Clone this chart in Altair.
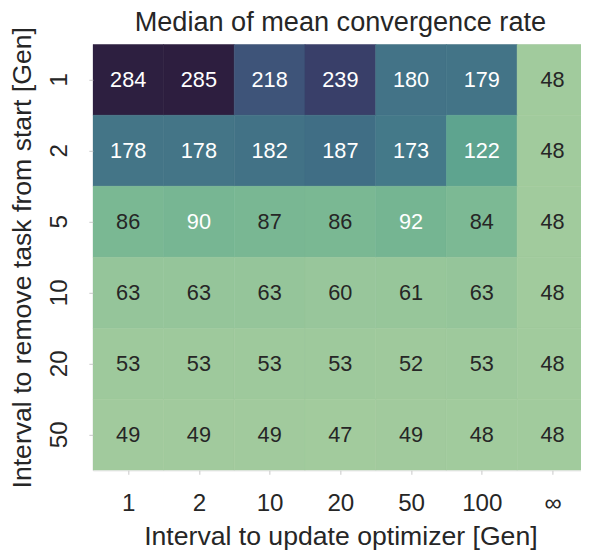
import json
import altair as alt
import pandas as pd

cols = ["1", "2", "10", "20", "50", "100", "∞"]
rows = ["1", "2", "5", "10", "20", "50"]
values = [
    [284, 285, 218, 239, 180, 179, 48],
    [178, 178, 182, 187, 173, 122, 48],
    [86, 90, 87, 86, 92, 84, 48],
    [63, 63, 63, 60, 61, 63, 48],
    [53, 53, 53, 53, 52, 53, 48],
    [49, 49, 49, 47, 49, 48, 48],
]

color_stops = [47, 53, 63, 86, 122, 178, 218, 239, 285]
color_range = ["#a2cb9d", "#9ec99c", "#95c59a", "#7ab893", "#5ea48f",
               "#447587", "#3e5479", "#393f69", "#2d1e3f"]

records = []
for r, row in zip(rows, values):
    for i, (c, v) in enumerate(zip(cols, row)):
        records.append({"row": r, "col": c, "ci": i, "ci2": i + 1, "cm": i + 0.5, "v": v})
df = pd.DataFrame(records)

FONT = "Liberation Sans"
TXT = "#262626"

# the last column runs slightly past the right edge of the picture, as in the reference
VIEW_W = 495
FULL_W = 502
xdomain = [0, len(cols) * VIEW_W / FULL_W]

label_expr = json.dumps(cols, ensure_ascii=False) + "[floor(datum.value)]"

xaxis = alt.Axis(title="Interval to update optimizer [Gen]", labelAngle=0,
                 values=[i + 0.5 for i in range(len(cols))], labelExpr=label_expr,
                 grid=False, labelFontSize=24.5, titleFontSize=27, labelPadding=18,
                 titlePadding=9, tickSize=4, tickColor="#c8c8c8",
                 domain=False, labelColor=TXT, titleColor=TXT, labelFlush=False,
                 labelFont=FONT, titleFont=FONT, titleFontWeight="normal",
                 titleX=FULL_W / 2, titleAnchor="middle")
xscale = alt.Scale(domain=xdomain, nice=False, zero=False)

y = alt.Y("row:N", sort=rows, scale=alt.Scale(paddingInner=0, paddingOuter=0),
          axis=alt.Axis(title="Interval to remove task from start [Gen]", labelAngle=270,
                        labelAlign="center", labelBaseline="bottom",
                        labelFontSize=24.5, titleFontSize=27, labelPadding=18,
                        titlePadding=10, tickSize=4, tickColor="#c8c8c8",
                        domain=False, labelColor=TXT, titleColor=TXT,
                        labelFont=FONT, titleFont=FONT, titleFontWeight="normal"))

color = alt.Color("v:Q", scale=alt.Scale(domain=color_stops, range=color_range), legend=None)

base = alt.Chart(df)
rects = base.mark_rect(strokeWidth=0.6, clip=True).encode(
    x=alt.X("ci:Q", scale=xscale, axis=xaxis),
    x2="ci2:Q",
    y=y, color=color, stroke=color,
)
texts = base.mark_text(font=FONT, fontSize=22).encode(
    x=alt.X("cm:Q", scale=xscale, axis=xaxis),
    y=y,
    text=alt.Text("v:Q"),
    color=alt.condition(alt.datum.v >= 90, alt.value("white"), alt.value(TXT)),
)

chart = (rects + texts).properties(
    width=VIEW_W, height=432,
    title=alt.TitleParams("Median of mean convergence rate", font=FONT, fontSize=27.5,
                          fontWeight="normal", color=TXT, anchor="middle", offset=10,
                          frame="group", dy=20, dx=(FULL_W - VIEW_W) / 2),
    autosize=alt.AutoSizeParams(type="none"),
    padding={"left": 86, "top": 33, "right": 0, "bottom": 79},
).resolve_scale(color="shared").configure_view(stroke=None).configure(background="white")

chart.save("out.html", embed_options={"renderer": "svg", "actions": False})
